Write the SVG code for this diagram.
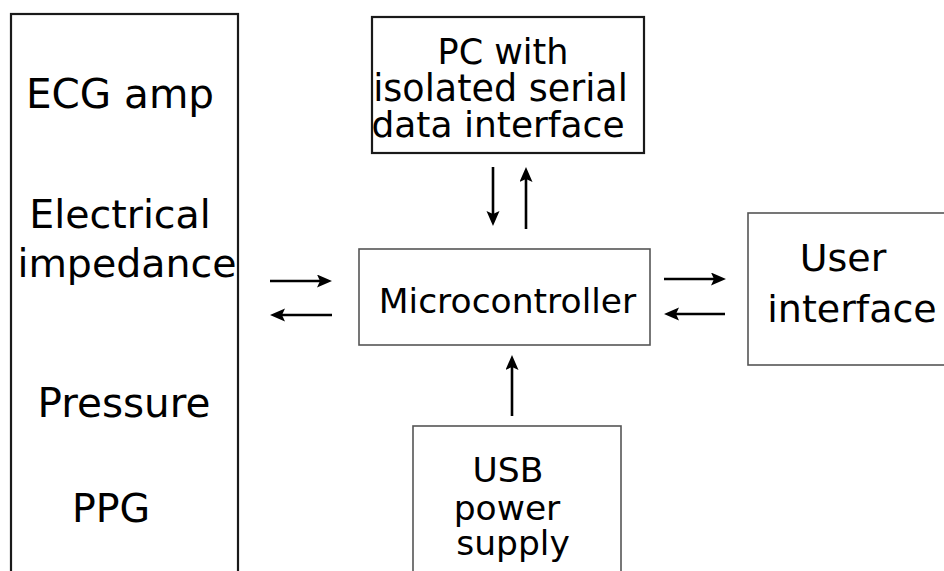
<svg xmlns="http://www.w3.org/2000/svg" width="944" height="571" viewBox="0 0 944 571">
  <style>
    .box { fill: #ffffff; stroke: #555555; stroke-width: 1.6; }
    .box-dark { fill: #ffffff; stroke: #1a1a1a; stroke-width: 2.2; }
    .lbl { font-family: "DejaVu Sans", Verdana, sans-serif; fill: #000000; text-anchor: middle; }
    .big { font-size: 39.5px; }
    .mid { font-size: 36px; }
    .link { stroke: #000000; stroke-width: 2.6; fill: none; marker-end: url(#head); }
  </style>
  <defs>
    <marker id="head" markerUnits="userSpaceOnUse" markerWidth="16" markerHeight="14" refX="8" refY="6.5" orient="auto">
      <path d="M0,0 L15,6.5 L0,13 L3,6.5 Z" fill="#000000"/>
    </marker>
  </defs>
  <rect width="944" height="571" fill="#ffffff"/>

  <!-- sensor front-ends column (runs off the bottom edge) -->
  <g id="sensors">
    <rect class="box-dark" x="11" y="14" width="227" height="600"/>
    <text class="lbl big" x="120" y="108" style="font-size:40.5px">ECG amp</text>
    <text class="lbl big" x="120" y="228">Electrical</text>
    <text class="lbl big" x="127" y="277">impedance</text>
    <text class="lbl big" x="124" y="417" style="font-size:40.5px">Pressure</text>
    <text class="lbl big" x="111" y="522">PPG</text>
  </g>

  <!-- host PC -->
  <g id="pc">
    <rect class="box-dark" x="372" y="17" width="272" height="136"/>
    <text class="lbl mid" x="503" y="64" style="font-size:35px">PC with</text>
    <text class="lbl mid" x="500.5" y="101" style="font-size:36.5px">isolated serial</text>
    <text class="lbl mid" x="498" y="137">data interface</text>
  </g>

  <!-- microcontroller -->
  <g id="mcu">
    <rect class="box" x="359" y="249" width="291" height="96"/>
    <text class="lbl mid" x="507.5" y="313" style="font-size:34.5px">Microcontroller</text>
  </g>

  <!-- user interface (runs off the right edge) -->
  <g id="ui">
    <rect class="box" x="748" y="213" width="220" height="152"/>
    <text class="lbl big" x="843" y="271" style="font-size:38px">User</text>
    <text class="lbl big" x="852" y="322" style="font-size:38px">interface</text>
  </g>

  <!-- power supply (runs off the bottom edge) -->
  <g id="usb">
    <rect class="box" x="413" y="426" width="208" height="200"/>
    <text class="lbl mid" x="508" y="482" style="font-size:34.5px">USB</text>
    <text class="lbl mid" x="507" y="520" style="font-size:34.5px">power</text>
    <text class="lbl mid" x="513" y="555" style="font-size:34.5px">supply</text>
  </g>

  <!-- signal flow -->
  <g id="connectors">
    <line class="link" x1="270" y1="281" x2="325" y2="281"/>
    <line class="link" x1="332" y1="315" x2="277" y2="315"/>
    <line class="link" x1="664" y1="279" x2="719" y2="279"/>
    <line class="link" x1="725" y1="314" x2="671" y2="314"/>
    <line class="link" x1="493" y1="167" x2="493" y2="219"/>
    <line class="link" x1="526" y1="229" x2="526" y2="174"/>
    <line class="link" x1="512" y1="416" x2="512" y2="362"/>
  </g>
</svg>
